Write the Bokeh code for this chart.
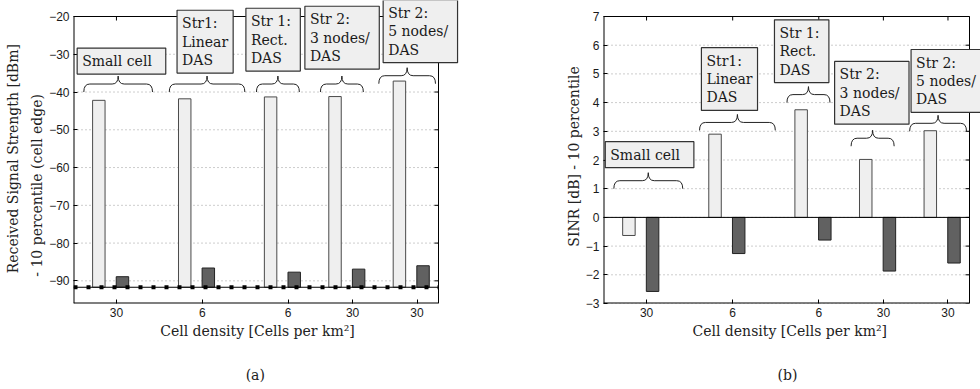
from bokeh.plotting import figure
from bokeh.models import FixedTicker, Label, Range1d, ColumnDataSource
from bokeh.layouts import row
from bokeh.embed import file_html
from bokeh.resources import INLINE
from bokeh.core.properties import value
from bokeh.core.property.dataspec import DataSpec

# ---------------- data ----------------
group_x = [1.0, 2.0, 3.0, 3.75, 4.5]
density_labels = ["30", "6", "6", "30", "30"]
strategies = ["Small cell", "Str1:\nLinear\nDAS", "Str 1:\nRect.\nDAS",
              "Str 2:\n3 nodes/\nDAS", "Str 2:\n5 nodes/\nDAS"]

rss_light = [-42.2, -41.8, -41.3, -41.2, -37.1]
rss_dark = [-88.9, -86.6, -87.7, -86.9, -86.0]
noise_floor = -91.7

sinr_light = [-0.63, 2.90, 3.75, 2.02, 3.02]
sinr_dark = [-2.58, -1.26, -0.79, -1.87, -1.59]

rss_ticks = [-90, -80, -70, -60, -50, -40, -30, -20]
sinr_ticks = [-3, -2, -1, 0, 1, 2, 3, 4, 5, 6, 7]

# ---------------- layout / style ----------------
X_START, X_END = 0.5, 4.75          # visible axes box in x
BAR_W = 0.145
OFF_LIGHT = -0.205
OFF_DARK = 0.07
LIGHT = "#efefef"
DARK = "#616161"
SERIF = "DejaVu Serif"
SANS = "Liberation Sans"
W = 490
H = 389
B_TOP = 16        # visible box top, px from canvas top
B_BOT = 86
VIS_H = H - B_TOP - B_BOT
NBSP = "\u00a0"

# Label.text_font may be a data spec: then a bare string would be a column name
_font_prop = Label.lookup("text_font").property
LABEL_FONT = value(SERIF) if isinstance(_font_prop, DataSpec) else SERIF

brace_dx = [0.02, 0.055, -0.12, -0.125, -0.115]
brace_half = [0.40, 0.44, 0.25, 0.25, 0.33]
rss_brace_y = [-40, -40, -40, -40, -37.8]
sinr_brace_y = [1.0, 3.03, 4.0, 2.48, 3.0]
box_dx_a = [-41, -30, -32, -37, -24]
box_dx_b = [-43, -36, -34, -38, -27]
box_gap_a = [2, 3, 5, 7, 5]
box_gap_b = [5, 4, 4, 6, 3]
box_extra = [2, 0, 1, 1, 1]
BRACE_H_PX = 16.0
BRACE_R_PX = 6.0
PAD = 5
TICK_PX = 4


def minus(v):
    s = f"{v:g}"
    return s.replace("-", "\u2212")


def make_fig(left, vis_w, y_start, y_end, yticks, light, dark, base, brace_y,
             box_dx, box_gap, ylabel, xlabel_pad, caption, caption_pad):
    xpx = vis_w / (X_END - X_START)
    ypx = VIS_H / (y_end - y_start)
    x_full = X_START + (W - left) / xpx
    y_full = y_end + B_TOP / ypx
    p = figure(width=W, height=H, x_range=Range1d(X_START, x_full),
               y_range=Range1d(y_start, y_full), output_backend="svg",
               toolbar_location=None, min_border_left=left, min_border_right=0,
               min_border_top=0, min_border_bottom=B_BOT)
    p.background_fill_color = "white"
    p.border_fill_color = "white"
    p.outline_line_color = None

    xa = p.xaxis[0]
    xa.ticker = FixedTicker(ticks=group_x)
    xa.major_label_overrides = {gx: lab for gx, lab in zip(group_x, density_labels)}
    ya = p.yaxis[0]
    ya.ticker = FixedTicker(ticks=yticks)
    ya.major_label_overrides = {t: minus(t) for t in yticks}
    for ax in (xa, ya):
        ax.major_tick_in = TICK_PX
        ax.major_tick_out = 0
        ax.minor_tick_line_color = None
        ax.axis_line_color = None
        ax.major_tick_line_color = "black"
        ax.major_label_text_font = SANS
        ax.major_label_text_font_size = "12px"
        ax.major_label_text_color = "#1a1a1a"
        ax.major_label_standoff = 4
        ax.axis_label_text_font = SERIF
        ax.axis_label_text_font_size = "14px"
        ax.axis_label_text_font_style = "normal"
        ax.axis_label_text_color = "#222222"
    xa.axis_label = ("Cell density [Cells per km\u00b2]" + NBSP * xlabel_pad + "\n" + NBSP +
                     "\n" + caption + NBSP * caption_pad)
    xa.axis_label_standoff = 3
    xa.axis_label_text_line_height = 1.4
    ya.axis_label = ylabel
    ya.axis_label_standoff = 1
    ya.axis_label_text_line_height = 1.5

    p.xgrid.grid_line_color = None
    p.ygrid.grid_line_color = None

    # dotted horizontal grid inside the visible box
    p.segment(x0=[X_START] * len(yticks), x1=[X_END] * len(yticks), y0=yticks, y1=yticks,
              line_color="#9a9a9a", line_width=1, line_dash="1 3")

    # box around the axes
    p.segment(x0=[X_START, X_START], x1=[X_END, X_START], y0=[y_start, y_start],
              y1=[y_start, y_end], line_color="black", line_width=2)
    p.segment(x0=[X_START, X_END], x1=[X_END, X_END], y0=[y_end, y_start],
              y1=[y_end, y_end], line_color="black", line_width=1)

    # mirrored ticks on the top and right edges
    tl_y = TICK_PX / ypx
    tl_x = TICK_PX / xpx
    p.segment(x0=group_x, x1=group_x, y0=[y_end] * len(group_x),
              y1=[y_end - tl_y] * len(group_x), line_color="black", line_width=1)
    p.segment(x0=[X_END] * len(yticks), x1=[X_END - tl_x] * len(yticks),
              y0=yticks, y1=yticks, line_color="black", line_width=1)

    src = ColumnDataSource(dict(
        xl=[g + OFF_LIGHT for g in group_x], xd=[g + OFF_DARK for g in group_x],
        light=light, dark=dark))
    p.vbar(x="xl", top="light", bottom=base, width=BAR_W, source=src,
           fill_color=LIGHT, line_color="#4a4a4a", line_width=1)
    p.vbar(x="xd", top="dark", bottom=base, width=BAR_W, source=src,
           fill_color=DARK, line_color="#222222", line_width=1)

    # base line of the bars
    p.segment(x0=[X_START], x1=[X_END], y0=[base], y1=[base], line_color="black", line_width=1)

    q = dict(x0=[], y0=[], x1=[], y1=[], cx=[], cy=[])
    s = dict(x0=[], y0=[], x1=[], y1=[])
    h = BRACE_H_PX / ypx
    rx = BRACE_R_PX / xpx
    tips = []
    for g, dx, hw, by in zip(group_x, brace_dx, brace_half, brace_y):
        xc = g + dx
        ym = by + h * 0.5
        yt = by + h
        tips.append((xc, yt))
        for (a, b, c, d, e, f) in [
            (xc - hw, by, xc - hw + rx, ym, xc - hw, ym),
            (xc - rx, ym, xc, yt, xc, ym),
            (xc + rx, ym, xc, yt, xc, ym),
            (xc + hw, by, xc + hw - rx, ym, xc + hw, ym)]:
            q["x0"].append(a); q["y0"].append(b); q["x1"].append(c)
            q["y1"].append(d); q["cx"].append(e); q["cy"].append(f)
        for (a, b, c, d) in [(xc - hw + rx, ym, xc - rx, ym), (xc + rx, ym, xc + hw - rx, ym)]:
            s["x0"].append(a); s["y0"].append(b); s["x1"].append(c); s["y1"].append(d)
    p.quadratic(x0="x0", y0="y0", x1="x1", y1="y1", cx="cx", cy="cy",
                source=ColumnDataSource(q), line_color="#222222", line_width=1)
    p.segment(x0="x0", y0="y0", x1="x1", y1="y1", source=ColumnDataSource(s),
              line_color="#222222", line_width=1)

    for (xc, yt), txt, bdx, gap, ex in zip(tips, strategies, box_dx, box_gap, box_extra):
        txt = "\n".join(line + NBSP * ex for line in txt.split("\n"))
        p.add_layout(Label(x=xc, y=yt, x_offset=bdx, y_offset=gap, text=txt,
                           text_font=LABEL_FONT, text_font_size="14px", text_color="#1a1a1a",
                           text_align="left", text_baseline="bottom", text_line_height=1.15,
                           background_fill_color=LIGHT, border_line_color="#333333",
                           border_line_width=1.2, padding=PAD))
    return p


ylabel_a = ("Received Signal Strength [dBm]" + NBSP * 3 + "\n- 10 percentile (cell edge)"
            + NBSP * 15)
pa = make_fig(73, 365, -96, -20, rss_ticks, rss_light, rss_dark, noise_floor,
              rss_brace_y, box_dx_a, box_gap_a, ylabel_a, 11, "(a)", 12)
# dash-dot reference level
pa.segment(x0=[X_START], x1=[X_END], y0=[noise_floor], y1=[noise_floor],
           line_color="black", line_width=4, line_dash="4 9")

pb = make_fig(113, 366, -3, 7, sinr_ticks, sinr_light, sinr_dark, 0,
              sinr_brace_y, box_dx_b, box_gap_b, "SINR [dB] - 10 percentile" + NBSP * 2,
              1, "(b)", 2)

layout = row(pa, pb)
open("out.html", "w").write(file_html(layout, INLINE))
